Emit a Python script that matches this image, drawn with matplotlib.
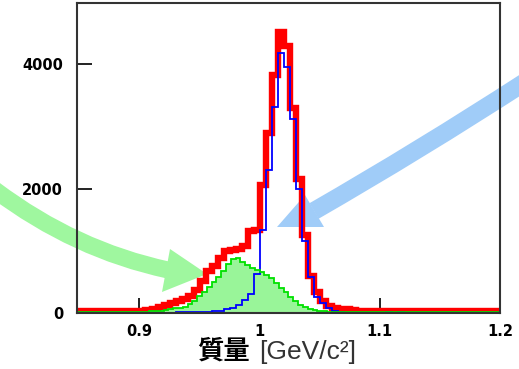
import numpy as np
import matplotlib
matplotlib.use("Agg")
import matplotlib.pyplot as plt
from matplotlib.path import Path
from matplotlib.patches import PathPatch, Polygon
from matplotlib.transforms import Affine2D

# ---------------- data ----------------
# red (total), bins of 0.005 starting at 0.845
red_start = 0.845
red_width = 0.005
red_values = [30, 30, 30, 30, 30, 30, 30, 30, 30, 30, 30,
              35, 50, 70, 100, 125, 160, 190, 220, 270, 370,
              520, 680, 760, 880, 990, 1020, 1030, 1070, 1310, 1330,
              2050, 2890, 3830, 4510, 4290, 3300, 2150, 1260, 600, 330,
              190, 110, 80, 70, 60, 50, 40, 35, 35, 30,
              25, 25, 25, 25, 25, 25, 25, 25, 25, 25,
              25, 25, 25, 25, 25, 25, 25, 25, 25, 25]

# blue component, bins of 0.005 starting at 0.865
blue_start = 0.865
blue_width = 0.005
blue_values = [0, 0, 0, 0, 0, 0, 0, 0, 0, 0, 0, 0, 0,
               10, 15, 10, 15, 15, 15, 30, 40, 60, 80, 130, 210, 300, 630,
               1335, 2300, 3315, 4170, 3955, 3110, 2000, 1160, 585, 265,
               155, 75, 40, 20, 0, 0, 0, 0, 0, 0, 0,
               15, 0, 10, 0, 0, 0, 0, 0, 0, 0, 0, 0, 0, 0, 0, 0, 0, 0, 0, 0, 0]

# green component, bins of 0.004 starting at 0.848
green_start = 0.848
green_width = 0.004
green_values = [20, 20, 20, 20, 20, 20, 20, 20, 20, 20, 20, 20, 20, 20, 20, 25, 30, 35,
                45, 60, 75, 85, 100, 150, 200, 280, 340, 420, 500, 580, 680, 780,
                870, 890, 820, 770, 715, 690, 660, 610, 555, 475, 400, 340, 262, 185,
                130, 95, 60, 45,
                30, 25, 20, 15, 15, 12, 12, 10, 10, 10, 10, 10, 10, 15, 15, 10,
                10, 10, 15, 10, 10, 10, 10, 10, 10, 10, 10, 10, 10, 10, 10, 10,
                10, 10, 10, 10, 10, 10]

xticks = [0.9, 1.0, 1.1, 1.2]
xtick_labels = ["0.9", "1", "1.1", "1.2"]
yticks = [0, 2000, 4000]
ytick_labels = ["0", "2000", "4000"]

# ---------------- figure ----------------
W, H = 519, 369
fig = plt.figure(figsize=(W / 100, H / 100), dpi=100)
fig.patch.set_facecolor("white")
ax = fig.add_axes([77 / W, 1 - 313 / H, (500 - 77) / W, (313 - 3) / H])
ax.patch.set_facecolor("none")

def edges(start, width, n):
    return np.round(start + width * np.arange(n + 1), 4)

re = edges(red_start, red_width, len(red_values))
be = edges(blue_start, blue_width, len(blue_values))
ge = edges(green_start, green_width, len(green_values))

ax.stairs(red_values, re, color="#ff0000", linewidth=4.6, baseline=None, zorder=2)
ax.stairs(green_values, ge, color="#99f599", fill=True, zorder=3)
ax.stairs(blue_values, be, color="#0000ff", linewidth=1.3, baseline=None, zorder=4)
ax.stairs(green_values, ge, color="#00e000", linewidth=1.3, baseline=None, zorder=5)

ax.set_xlim(0.848, 1.2)
ax.set_ylim(0, 4980)
ax.set_xticks(xticks)
ax.set_xticklabels(xtick_labels)
ax.set_yticks(yticks)
ax.set_yticklabels(ytick_labels)
ax.minorticks_off()
for lab in ax.get_xticklabels() + ax.get_yticklabels():
    lab.set_fontweight("bold")
    lab.set_fontsize(10.5)
    lab.set_family("DejaVu Sans")
    lab.set_color("black")
ax.tick_params(axis="both", direction="in", length=11, width=1.4, color="#222222")
ax.tick_params(axis="x", pad=8)
ax.tick_params(axis="y", pad=10)
for s in ax.spines.values():
    s.set_linewidth(1.5)
    s.set_color("#333333")
    s.set_zorder(10)

# x label
fig.text(197 / W, 1 - 351 / H, "質量", fontsize=19, fontweight="bold",
         family=["Noto Sans CJK JP", "DejaVu Sans"], color="black",
         ha="left", va="center")
fig.text(259 / W, 1 - 352 / H, "[GeV/c²]", fontsize=19,
         family=["Liberation Sans", "DejaVu Sans"], color="#333333",
         ha="left", va="center")

# ---------------- decorative arrows (figure pixel coordinates) ----------------
pix = Affine2D().scale(1 / W, -1 / H).translate(0, 1) + fig.transFigure

def curved_arrow(p0, p1, p2, width_px, head, color):
    path = Path([p0, p1, p2], [Path.MOVETO, Path.CURVE3, Path.CURVE3])
    shaft = PathPatch(path, facecolor="none", edgecolor=color,
                      linewidth=width_px * 0.72, capstyle="butt",
                      transform=pix, zorder=-1)
    fig.add_artist(shaft)
    fig.add_artist(Polygon(head, closed=True, facecolor=color, edgecolor="none",
                           transform=pix, zorder=-1))

curved_arrow((-5, 190), (75, 250), (168, 270), 17,
             [(170, 249), (162, 292), (207, 274)], "#9ff79f")
curved_arrow((525, 82), (420, 150), (314, 211), 18,
             [(305, 195), (324, 227), (277, 227)], "#a0ccf8")

fig.savefig("out.png", dpi=100, facecolor="white")
